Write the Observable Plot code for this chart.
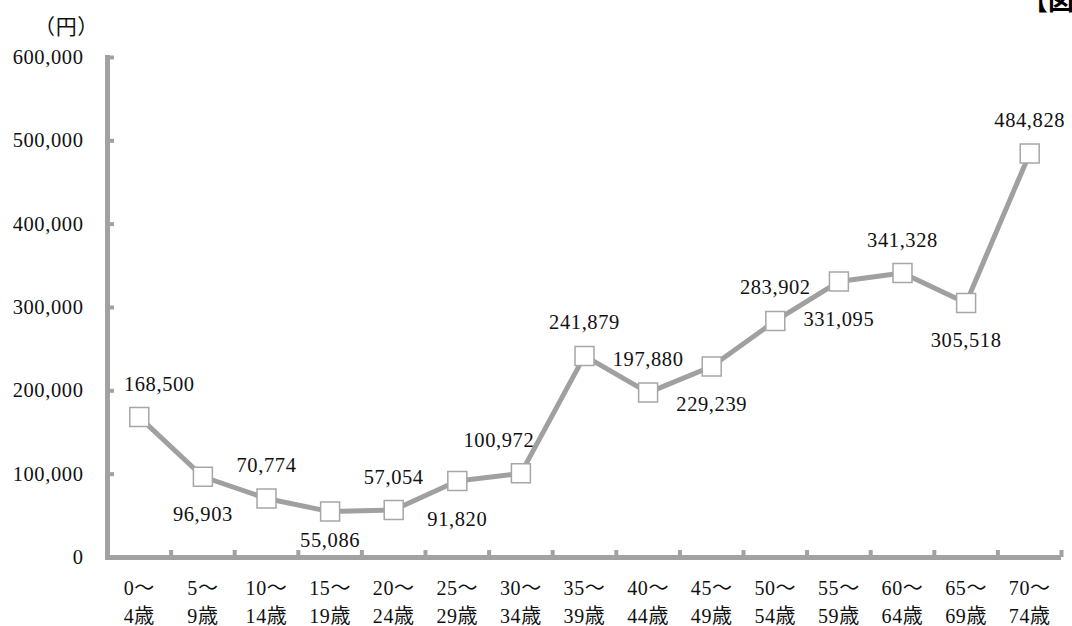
<!DOCTYPE html>
<html>
<head>
<meta charset="utf-8">
<script src="https://cdn.jsdelivr.net/npm/d3@7"></script>
<script src="https://cdn.jsdelivr.net/npm/@observablehq/plot@0.6"></script>
<style>
  html, body { margin: 0; padding: 0; background: #fff; }
  #wrap { position: relative; width: 1072px; height: 626px; overflow: hidden; }
  #tag { position: absolute; left: 1022px; top: -20px; font: bold 26px "Noto Sans CJK JP", sans-serif; color: #000; white-space: nowrap; }
  #wrap svg text { letter-spacing: 0.6px; }
</style>
</head>
<body>
<div id="wrap"><div id="tag">【図表】</div></div>
<script>
// Medical cost per person by age group (yen)
const ageGroups = ["0～4歳", "5～9歳", "10～14歳", "15～19歳", "20～24歳", "25～29歳", "30～34歳", "35～39歳", "40～44歳", "45～49歳", "50～54歳", "55～59歳", "60～64歳", "65～69歳", "70～74歳"];
const costs = [168500, 96903, 70774, 55086, 57054, 91820, 100972, 241879, 197880, 229239, 283902, 331095, 341328, 305518, 484828];
// where each value label sits relative to its marker
const labelSide = ["above", "below", "above", "below", "above", "below", "above", "above", "above", "below", "above", "below", "above", "below", "above"];
const yTicks = [0, 100000, 200000, 300000, 400000, 500000, 600000];
const yUnit = "（円）";

const W = 1072, H = 626;
const margin = {left: 107, right: 11, top: 57, bottom: 69};
const step = (W - margin.left - margin.right) / ageGroups.length;

const gray = "#a2a2a2";
const serif = "'Liberation Serif', 'Noto Sans CJK JP', serif";
const fmt = d3.format(",");

const rows = ageGroups.map((g, i) => ({group: g, cost: costs[i], side: labelSide[i]}));

// small hand nudges so labels clear the axis and the line
const nudge = {"0～4歳": {dx: 20, dy: 0}, "30～34歳": {dx: -22, dy: 0}, "15～19歳": {dx: 0, dy: -9}};
const labelGroups = d3.groups(rows, d => {
  const n = nudge[d.group] || {dx: 0, dy: 0};
  const base = d.side === "above" ? -33 : 38;
  return `${n.dx},${base + n.dy}`;
});

const labelMarks = labelGroups.map(([key, data]) => {
  const [dx, dy] = key.split(",").map(Number);
  return Plot.text(data, {
    x: "group", y: "cost", text: d => fmt(d.cost),
    dx, dy, fontSize: 20.5, fill: "#111", fontFamily: serif
  });
});

const chart = Plot.plot({
  width: W,
  height: H,
  marginLeft: margin.left,
  marginRight: margin.right,
  marginTop: margin.top,
  marginBottom: margin.bottom,
  style: {fontFamily: serif, background: "#fff", color: "#111"},
  x: {type: "point", domain: ageGroups, padding: 0.5, round: false, label: null},
  y: {domain: [0, 600000], label: null},
  marks: [
    // tick marks pointing inward, on band boundaries for x
    Plot.axisY(yTicks, {tickSize: -7, tickFormat: () => "", stroke: gray, strokeWidth: 4, label: null}),
    Plot.axisX(ageGroups, {tickSize: -7, dx: step / 2, tickFormat: () => "", stroke: gray, strokeWidth: 4, label: null}),
    // tick labels
    Plot.axisY(yTicks, {tickSize: 0, tickPadding: 24, tickFormat: d => fmt(d), fontSize: 20.5, fill: "#111", label: null}),
    Plot.axisX(ageGroups, {tickSize: 0, tickPadding: 17, tickFormat: d => d.replace("～", "～\n"), fontSize: 20, lineHeight: 1.42, fill: "#111", label: null}),
    // axis lines
    Plot.frame({anchor: "left", stroke: gray, strokeWidth: 5}),
    Plot.ruleY([0], {stroke: gray, strokeWidth: 5}),
    // series
    Plot.line(rows, {x: "group", y: "cost", stroke: "#a0a0a0", strokeWidth: 5}),
    Plot.dot(rows, {x: "group", y: "cost", symbol: "square", r: 10.7, fill: "#fff", stroke: "#a6a6a6", strokeWidth: 1.5}),
    ...labelMarks,
    Plot.text([yUnit], {frameAnchor: "top-left", dx: -41, dy: -38, text: d => d, fontSize: 21, fill: "#111", textAnchor: "middle"})
  ]
});

document.getElementById("wrap").prepend(chart);
</script>
</body>
</html>
